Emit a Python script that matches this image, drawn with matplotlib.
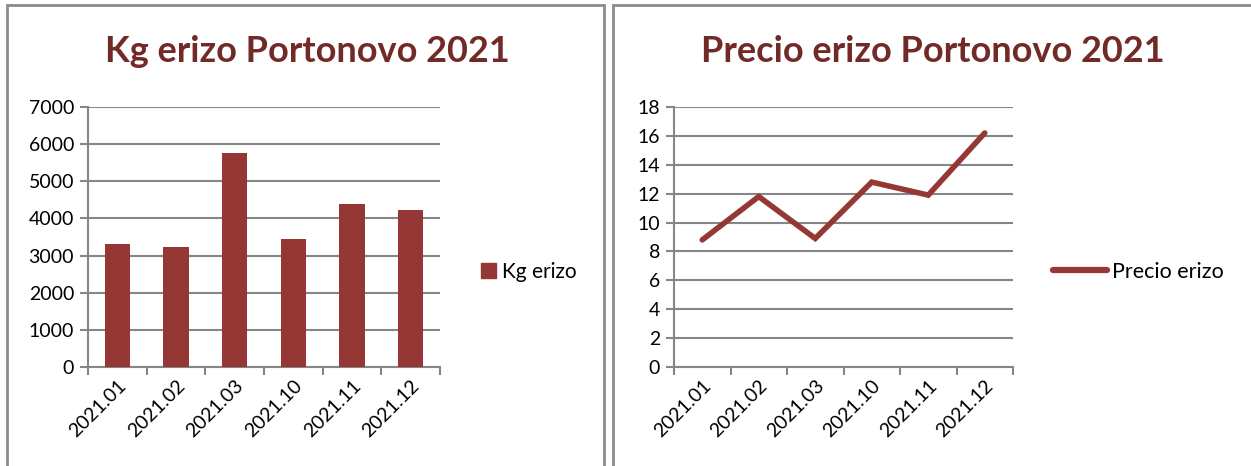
import matplotlib
matplotlib.use("Agg")
import matplotlib.pyplot as plt
from matplotlib.patches import Rectangle
from matplotlib.lines import Line2D
import numpy as np

# data
months = ["2021.01", "2021.02", "2021.03", "2021.10", "2021.11", "2021.12"]
kg_erizo = [3320, 3220, 5770, 3450, 4390, 4230]
precio_erizo = [8.8, 11.8, 8.9, 12.8, 11.9, 16.2]

bar_color = "#953735"
title_color = "#722A28"
grid_color = "#868686"

plt.rcParams["font.family"] = ["Lato", "DejaVu Sans"]

W, H = 1251, 466
fig = plt.figure(figsize=(W / 100, H / 100), dpi=100)


def px_axes(x0, x1, y0, y1):
    # axes from pixel box (top-left origin)
    return fig.add_axes([x0 / W, 1 - y1 / H, (x1 - x0) / W, (y1 - y0) / H])


def style_axes(ax, ymax, ystep):
    x = np.arange(len(months))
    ax.set_xlim(-0.5, len(months) - 0.5)
    ax.set_ylim(0, ymax)
    ax.set_yticks(np.arange(0, ymax + ystep / 2, ystep))
    ax.set_xticks(np.arange(-0.5, len(months), 1.0))
    ax.set_xticklabels([])
    ax.set_xticks(x, minor=True)
    ax.set_xticklabels(months, minor=True, rotation=45, ha="right",
                       rotation_mode="anchor", fontsize=14)
    ax.tick_params(axis="x", which="minor", length=0, pad=7)
    ax.tick_params(axis="x", which="major", length=6, width=1.5, color=grid_color)
    ax.tick_params(axis="y", length=6, width=1.5, color=grid_color, labelsize=14, pad=4)
    ax.yaxis.grid(True, color=grid_color, linewidth=1.5)
    ax.set_axisbelow(True)
    for s in ["top", "right"]:
        ax.spines[s].set_visible(False)
    for s in ["left", "bottom"]:
        ax.spines[s].set_color(grid_color)
        ax.spines[s].set_linewidth(1.5)
    return x


# panel borders
fig.patches.append(Rectangle((7 / W, -0.1), (604 - 7) / W, 1.1 - 5 / H,
                             transform=fig.transFigure, fill=False,
                             edgecolor="#8C8C8C", linewidth=2))
fig.patches.append(Rectangle((613 / W, -0.1), 0.6, 1.1 - 5 / H,
                             transform=fig.transFigure, fill=False,
                             edgecolor="#8C8C8C", linewidth=2))

# left: bar chart
ax1 = px_axes(88, 440, 107, 367)
x = style_axes(ax1, 7000, 1000)
ax1.bar(x, kg_erizo, width=0.43, color=bar_color, zorder=3)
fig.text(307 / W, 1 - 52 / H, "Kg erizo Portonovo 2021", ha="center", va="center",
         fontsize=26, fontweight="bold", color=title_color)
ax1.legend([Rectangle((0, 0), 1, 1, color=bar_color)], ["Kg erizo"],
           loc="center left", bbox_to_anchor=(462 / W, 1 - 272 / H),
           bbox_transform=fig.transFigure, frameon=False, fontsize=15,
           handlelength=0.72, handleheight=0.72, handletextpad=0.3)

# right: line chart
ax2 = px_axes(674, 1013, 107, 367)
x = style_axes(ax2, 18, 2)
ax2.plot(x, precio_erizo, color=bar_color, linewidth=4, solid_capstyle="round",
         solid_joinstyle="miter", zorder=3)
fig.text(933 / W, 1 - 52 / H, "Precio erizo Portonovo 2021", ha="center", va="center",
         fontsize=26, fontweight="bold", color=title_color)
ax2.legend([Line2D([0], [0], color=bar_color, linewidth=4.5, solid_capstyle="round")],
           ["Precio erizo"], loc="center left", bbox_to_anchor=(1034 / W, 1 - 272 / H),
           bbox_transform=fig.transFigure, frameon=False, fontsize=15.5,
           handlelength=2.5, handletextpad=0.2)

fig.savefig("out.png", dpi=100)
